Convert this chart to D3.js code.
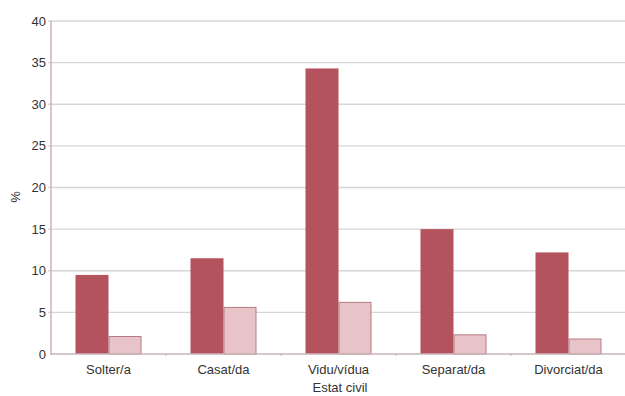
<!DOCTYPE html>
<html><head><meta charset="utf-8">
<script src="https://cdn.jsdelivr.net/npm/d3@7"></script>
<style>body{margin:0;background:#fff}svg{display:block}text{font-family:"Liberation Sans",Arial,sans-serif;fill:#333}</style>
</head><body>
<svg id="c" width="625" height="396"></svg>
<script>
const categories = ["Solter/a","Casat/da","Vidu/vídua","Separat/da","Divorciat/da"];
const seriesA = [9.5, 11.5, 34.3, 15.0, 12.2];
const seriesB = [2.1, 5.6, 6.2, 2.3, 1.8];
const yTicks = [0,5,10,15,20,25,30,35,40];

const svg = d3.select("#c");
const m = {l:51, r:0, t:21, b:42};
const W = 625, H = 396;
const x = d3.scaleBand().domain(categories).range([m.l, 626]).paddingInner(0).paddingOuter(0);
const y = d3.scaleLinear().domain([0,40]).range([H-m.b, m.t]);
const inner = d3.scaleBand().domain(["a","b"]).range([0,66]);

svg.append("g").selectAll("line").data(yTicks.filter(d=>d>0)).join("line")
  .attr("x1", m.l-3).attr("x2", W).attr("y1", d=>y(d)).attr("y2", d=>y(d))
  .attr("stroke","#d6d6d6").attr("stroke-width",1.3);

svg.append("g").selectAll("text").data(yTicks).join("text")
  .attr("x", 46).attr("y", d=>y(d)).attr("dy","0.35em").attr("text-anchor","end")
  .attr("font-size",13).text(d=>d);

const g = svg.append("g").selectAll("g").data(categories).join("g")
  .attr("transform", d=>`translate(${x(d)+x.bandwidth()/2-33},0)`);
g.append("rect").attr("x", inner("a")).attr("width", inner.bandwidth())
  .attr("y",(d,i)=>y(seriesA[i])).attr("height",(d,i)=>y(0)-y(seriesA[i]))
  .attr("fill","#b4525e");
g.append("rect").attr("x", inner("b")+0.5).attr("width", inner.bandwidth()-1)
  .attr("y",(d,i)=>y(seriesB[i])).attr("height",(d,i)=>y(0)-y(seriesB[i]))
  .attr("fill","#e8c4c9").attr("stroke","#b57a83").attr("stroke-width",1);

svg.append("line").attr("x1",m.l).attr("x2",m.l).attr("y1",m.t).attr("y2",y(0)+1)
  .attr("stroke","#c9b4b8").attr("stroke-width",1.5);
svg.append("line").attr("x1",m.l).attr("x2",W).attr("y1",y(0)).attr("y2",y(0))
  .attr("stroke","#c9b4b8").attr("stroke-width",1.5);
svg.append("g").selectAll("line").data(categories.slice(1)).join("line")
  .attr("x1",d=>x(d)).attr("x2",d=>x(d)).attr("y1",y(0)).attr("y2",y(0)+2)
  .attr("stroke","#c9b4b8");

svg.append("g").selectAll("text").data(categories).join("text")
  .attr("x", d=>x(d)+x.bandwidth()/2).attr("y", 374).attr("text-anchor","middle")
  .attr("font-size",13).text(d=>d);

svg.append("text").attr("x",340).attr("y",392).attr("text-anchor","middle")
  .attr("font-size",13).text("Estat civil");
svg.append("text").attr("transform","translate(20,197) rotate(-90)")
  .attr("text-anchor","middle").attr("font-size",13).text("%");
</script>
</body></html>
